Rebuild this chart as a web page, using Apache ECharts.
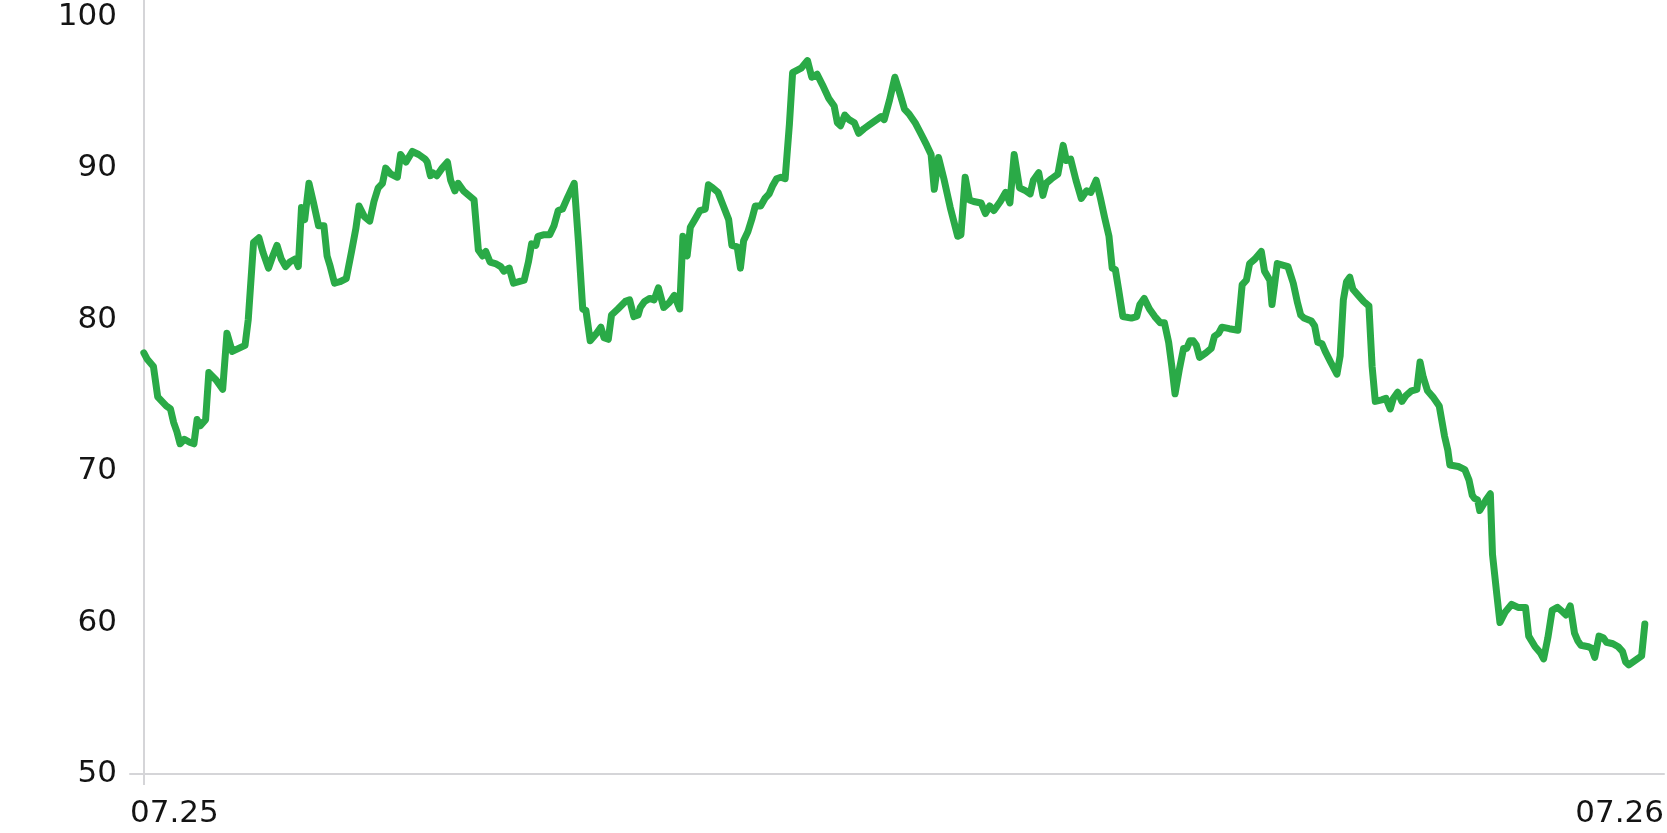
<!DOCTYPE html>
<html>
<head>
<meta charset="utf-8">
<script src="https://cdn.jsdelivr.net/npm/echarts@6/dist/echarts.min.js"></script>
<style>
html,body{margin:0;padding:0;background:#fff;}
#chart{width:1667px;height:833px;}
</style>
</head>
<body>
<div id="chart"></div>
<script>
// minutes after 07.25 00:00
const timeMinutes = [
  13,16,22,26,34,38,41,44,47,51,56,60,
  63,66,71,74,81,87,91,96,102,108,111,
  116,121,125,130,134,138,142,146,150,155,158,
  161,164,168,172,177,182,185,188,192,197,203,
  208,212,215,220,225,229,233,237,240,245,251,
  254,259,265,271,277,279,282,284,288,293,298,
  301,305,308,313,318,323,327,331,334,338,343,
  348,351,356,360,365,370,374,377,381,383,388,
  394,398,402,406,411,417,421,425,428,432,438,
  442,445,449,452,458,465,469,473,477,479,483,
  488,492,496,501,506,511,516,519,523,526,531,
  535,540,543,547,552,557,562,565,570,573,576,
  580,584,587,592,596,600,603,607,611,615,619,
  622,630,636,640,645,650,656,661,664,667,671,
  675,680,684,689,695,701,705,708,713,718,722,
  727,731,737,743,748,752,755,759,764,770,777,
  780,784,788,792,799,803,807,811,817,822,826,
  830,835,841,845,848,853,857,860,865,871,876,
  879,883,888,893,898,902,907,911,915,919,922,
  925,928,932,940,945,948,952,957,962,967,971,
  975,978,981,985,989,992,995,998,1001,1004,1010,
  1015,1018,1022,1025,1032,1040,1044,1048,1051,1056,1062,
  1065,1070,1072,1077,1082,1087,1092,1096,1099,1102,1109,
  1112,1115,1119,1122,1127,1133,1136,1139,1142,1145,1148,
  1153,1158,1163,1166,1169,1175,1179,1183,1186,1190,1194,
  1198,1203,1208,1211,1214,1218,1223,1229,1234,1237,1239,
  1247,1253,1257,1260,1262,1265,1267,1273,1277,1279,1283,
  1286,1291,1297,1303,1310,1313,1319,1324,1327,1331,1335,
  1340,1345,1348,1352,1356,1359,1362,1369,1372,1375,1379,
  1383,1386,1392,1397,1401,1404,
  1407,1419,1422
];
const values = [
  77.8,77.4,76.9,74.9,74.3,74.1,73.2,72.6,71.8,72.1,71.9,71.8,
  73.4,73.0,73.4,76.5,76.0,75.4,79.1,77.9,78.1,78.3,80.0,
  85.1,85.4,84.4,83.4,84.2,84.9,84.0,83.5,83.8,84.0,83.5,
  87.4,86.6,89.0,87.8,86.2,86.2,84.2,83.5,82.4,82.5,82.7,
  84.5,86.0,87.5,86.8,86.5,87.8,88.7,89.0,90.0,89.6,89.4,
  90.9,90.4,91.1,90.9,90.6,90.4,89.5,89.7,89.5,90.0,90.4,
  89.2,88.5,89.0,88.5,88.2,87.9,84.6,84.2,84.5,83.8,83.7,
  83.5,83.2,83.4,82.4,82.5,82.6,83.8,85.0,84.9,85.5,85.6,
  85.6,86.2,87.2,87.3,88.1,89.0,85.1,80.7,80.6,78.6,79.1,
  79.5,78.8,78.7,80.3,80.7,81.2,81.3,80.2,80.3,80.8,81.2,
  81.4,81.3,82.1,80.8,81.1,81.6,80.7,85.5,84.2,86.1,86.7,
  87.2,87.3,88.9,88.7,88.4,87.5,86.6,84.9,84.8,83.4,85.2,
  85.8,86.7,87.5,87.5,88.0,88.3,88.8,89.3,89.4,89.3,92.9,
  96.3,96.6,97.1,96.0,96.2,95.5,94.6,94.1,93.0,92.8,93.5,
  93.2,93.0,92.3,92.6,92.9,93.2,93.4,93.2,94.5,96.0,95.1,
  93.9,93.6,93.0,92.2,91.5,90.9,88.6,90.7,89.3,87.4,85.5,
  85.6,89.4,87.9,87.8,87.7,87.0,87.5,87.2,87.8,88.4,87.7,
  90.9,88.7,88.5,88.3,89.2,89.7,88.2,89.0,89.3,89.6,91.5,
  90.5,90.6,89.2,88.0,88.5,88.4,89.2,88.0,86.7,85.5,83.4,
  83.3,82.0,80.2,80.1,80.2,81.0,81.4,80.7,80.2,79.8,79.8,
  78.5,76.9,75.1,76.7,78.1,78.1,78.6,78.6,78.3,77.5,77.8,
  78.1,78.9,79.1,79.5,79.4,79.3,82.3,82.6,83.7,84.0,84.5,
  83.2,82.6,81.0,83.7,83.6,83.5,82.4,81.1,80.3,80.1,79.9,
  79.6,78.5,78.4,77.9,77.2,76.4,77.6,81.3,82.5,82.8,82.0,
  81.6,81.2,80.9,76.9,74.6,74.7,74.8,74.1,74.8,75.2,74.6,
  75.0,75.3,75.4,77.2,76.2,75.3,74.9,74.3,72.3,71.4,70.4,
  70.3,70.1,69.4,68.4,68.2,68.1,67.4,68.1,68.5,64.5,61.9,
  60.0,60.7,61.2,61.0,61.0,59.1,58.4,58.0,57.6,59.0,60.8,
  61.0,60.7,60.5,61.1,59.3,58.8,58.5,58.4,58.3,57.7,59.1,
  59.0,58.7,58.6,58.4,58.1,57.4,
  57.2,57.8,59.9
];
const xTickMinutes = [0, 1440];
const xTickLabels = ['07.25', '07.26'];
const yTickValues = [50, 60, 70, 80, 90, 100];

const axisGray = '#d5d5d8';
const textColor = '#141414';
const fontFamily = 'DejaVu Sans';

const chart = echarts.init(document.getElementById('chart'), null, {renderer: 'canvas'});
chart.setOption({
  animation: false,
  backgroundColor: '#ffffff',
  grid: {left: 130, right: 0, top: 0, bottom: 59, containLabel: false},
  xAxis: {
    type: 'value',
    min: xTickMinutes[0],
    max: xTickMinutes[xTickMinutes.length - 1],
    axisLine: {show: true, onZero: false, lineStyle: {color: axisGray, width: 2}},
    axisTick: {show: true, customValues: [timeMinutes[0]], length: 11, lineStyle: {color: axisGray, width: 2}},
    splitLine: {show: true, lineStyle: {color: axisGray, width: 2}},
    axisLabel: {
      customValues: xTickMinutes,
      formatter: function (v) {
        const i = xTickMinutes.indexOf(v);
        return i >= 0 ? xTickLabels[i] : '';
      },
      alignMinLabel: 'left',
      alignMaxLabel: 'right',
      showMinLabel: true,
      showMaxLabel: true,
      margin: 24,
      fontSize: 31,
      color: textColor,
      fontFamily: fontFamily
    }
  },
  yAxis: {
    type: 'value',
    min: 50,
    max: 101.1,
    axisLine: {show: false},
    axisTick: {show: false},
    splitLine: {show: false},
    axisLabel: {
      customValues: yTickValues,
      margin: 13,
      fontSize: 31,
      color: textColor,
      fontFamily: fontFamily
    }
  },
  series: [{
    type: 'line',
    data: timeMinutes.map((m, i) => [m, values[i]]),
    showSymbol: false,
    symbol: 'none',
    lineStyle: {color: '#2aaa47', width: 7, join: 'round', cap: 'round'},
    itemStyle: {color: '#2aaa47'}
  }]
});
</script>
</body>
</html>
